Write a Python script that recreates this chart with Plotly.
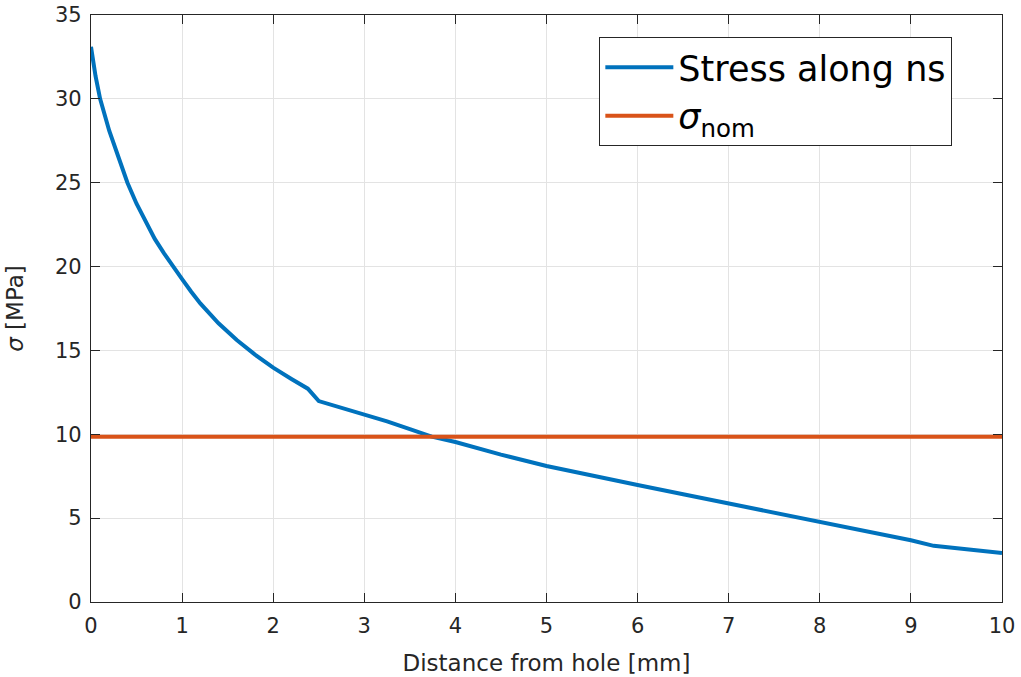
import plotly.graph_objects as go

distance_mm = [0, 0.05, 0.1, 0.15, 0.2, 0.3, 0.4, 0.5, 0.6, 0.7, 0.8, 0.9, 1.0, 1.1, 1.2, 1.4,
               1.6, 1.8, 2.0, 2.2, 2.38, 2.5, 3.0, 3.25, 3.5, 3.74, 4.0, 4.5, 5, 5.5, 6, 6.5,
               7, 7.5, 8, 8.5, 9, 9.25, 10]
stress_mpa = [33.1, 31.35, 30.0, 28.95, 28.1, 26.55, 25.0, 23.75, 22.65, 21.65, 20.8, 19.98,
              19.25, 18.5, 17.8, 16.62, 15.62, 14.75, 13.97, 13.3, 12.72, 11.98, 11.19, 10.77,
              10.31, 9.86, 9.54, 8.79, 8.11, 7.52, 6.98, 6.42, 5.87, 5.35, 4.82, 4.27, 3.68,
              3.35, 2.92]
sigma_nom = 9.86
x_ticks = list(range(0, 11))
y_ticks = list(range(0, 36, 5))

font = "DejaVu Sans, Arial, sans-serif"
txt = "#262626"

fig = go.Figure()
fig.add_trace(go.Scatter(x=distance_mm, y=stress_mpa, mode="lines",
                         line=dict(color="#0072BD", width=4), name="Stress along ns"))
fig.add_trace(go.Scatter(x=[0, 10], y=[sigma_nom, sigma_nom], mode="lines",
                         line=dict(color="#D95319", width=4),
                         name="<i>σ</i><sub>nom</sub>"))

axis_common = dict(showline=True, linecolor=txt, linewidth=1.2, mirror="ticks",
                   ticks="inside", ticklen=9, tickcolor=txt, automargin=False,
                   showgrid=True, gridcolor="#e3e3e3", gridwidth=1, zeroline=False,
                   tickfont=dict(family=font, size=21, color=txt))

fig.update_xaxes(range=[0, 10], tickvals=x_ticks, ticklabelstandoff=5,
                 title=dict(text="Distance from hole [mm]", font=dict(family=font, size=23, color=txt), standoff=17),
                 **axis_common)
fig.update_yaxes(range=[0, 35], tickvals=y_ticks, ticklabelstandoff=4,
                 title=dict(text="<i>σ</i> [MPa]", font=dict(family=font, size=23, color=txt), standoff=24),
                 **axis_common)

fig.update_layout(
    width=1021, height=677,
    margin=dict(l=91, r=19, t=15, b=75),
    plot_bgcolor="white", paper_bgcolor="white",
    legend=dict(x=0.558, y=0.9625, xanchor="left", yanchor="top",
                bordercolor=txt, borderwidth=1, bgcolor="white",
                font=dict(family=font, size=35, color="black"),
                itemwidth=68),
    showlegend=True,
)

fig.write_html("out.html")
